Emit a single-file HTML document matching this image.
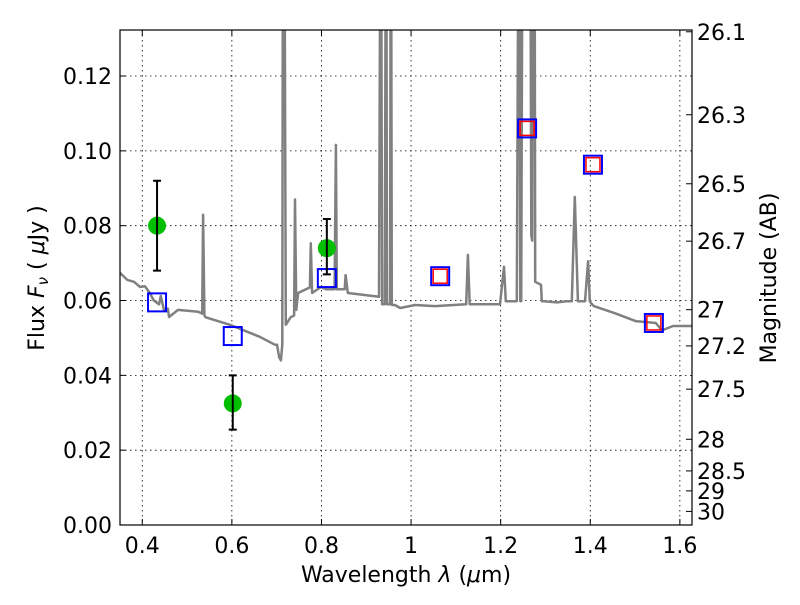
<!DOCTYPE html>
<html><head><meta charset="utf-8"><style>
body{margin:0;background:#fff;}
svg text{font-family:"DejaVu Sans","Liberation Sans",sans-serif;fill:#000;}
</style></head><body>
<svg id="chart" width="800" height="600" xmlns="http://www.w3.org/2000/svg">
<rect x="0" y="0" width="800" height="600" fill="#fff"/>
<defs><clipPath id="clip"><rect x="120" y="30" width="572" height="495"/></clipPath></defs>
<g id="grid"></g>
<g id="spec" clip-path="url(#clip)"></g>
<g id="marks"></g>
<rect x="120" y="30" width="572" height="495" fill="none" stroke="#000" stroke-width="1.2"/>
<g id="axes"></g>
<text x="406" y="582" font-size="22" text-anchor="middle">Wavelength  <tspan font-style="italic">λ</tspan> (<tspan font-style="italic">μ</tspan>m)</text>
<text transform="translate(44,278) rotate(-90)" font-size="22" text-anchor="middle">Flux  <tspan font-style="italic">F<tspan font-size="15" dy="4">ν</tspan></tspan><tspan dy="-4">  ( </tspan><tspan font-style="italic">μ</tspan>Jy )</text>
<text transform="translate(776,278) rotate(-90)" font-size="22" text-anchor="middle">Magnitude (AB)</text>
</svg>
<script>
const specWave=[0.350,0.3667,0.3815,0.3952,0.4060,0.4168,0.4257,0.4375,0.4414,0.4483,0.4571,0.4600,0.4797,0.5249,0.5337,0.5357,0.5386,0.5416,0.5956,0.6624,0.6958,0.7007,0.7056,0.7095,0.7125,0.7144,0.7164,0.7203,0.7311,0.7390,0.7409,0.7439,0.7478,0.7743,0.7763,0.7792,0.7989,0.8097,0.8293,0.8323,0.8342,0.8519,0.8539,0.8588,0.9148,0.9285,0.9325,0.9354,0.9413,0.9443,0.9462,0.9531,0.9551,0.9570,0.9639,0.9757,1.0091,1.0533,1.1230,1.1269,1.1309,1.1986,1.2075,1.2114,1.2163,1.2360,1.2409,1.2438,1.2458,1.2497,1.2654,1.2684,1.2703,1.2723,1.2752,1.2772,1.2900,1.2919,1.2969,1.3253,1.3479,1.3587,1.3656,1.3725,1.3882,1.3951,1.3990,1.4039,1.4079,1.4570,1.5012,1.5464,1.5601,1.5846,1.627];
const specFlux=[0.0674,0.0655,0.0650,0.0636,0.0638,0.0620,0.0600,0.0590,0.0612,0.0575,0.0578,0.0556,0.0575,0.0570,0.0565,0.0829,0.0560,0.0555,0.0535,0.0503,0.0482,0.0482,0.0448,0.0440,0.0482,0.2,0.2,0.0535,0.0555,0.0560,0.0870,0.0575,0.0620,0.0635,0.0753,0.0620,0.0636,0.0630,0.0630,0.1016,0.0630,0.0630,0.0668,0.0620,0.0612,0.0610,0.2,0.0590,0.0590,0.2,0.0590,0.0590,0.2,0.0588,0.0588,0.0580,0.0588,0.0585,0.0590,0.0722,0.0590,0.0590,0.0690,0.0598,0.0598,0.0598,0.2,0.0598,0.0598,0.2,0.2,0.0775,0.0760,0.2,0.2,0.0650,0.0642,0.0598,0.0598,0.0595,0.0598,0.0598,0.0877,0.0598,0.0598,0.0705,0.0598,0.0590,0.0585,0.0565,0.0545,0.0540,0.0520,0.0532,0.0532];
const greenWave=[0.433,0.602,0.812];
const greenFlux=[0.080,0.0325,0.074];
const greenLo=[0.068,0.0255,0.067];
const greenHi=[0.092,0.040,0.0818];
const blueWave=[0.433,0.602,0.812,1.065,1.259,1.406,1.542];
const blueFlux=[0.0595,0.0505,0.066,0.0665,0.106,0.0963,0.054];
const redWave=[1.065,1.259,1.406,1.542];
const redFlux=[0.0665,0.106,0.0963,0.054];
const xTicks=[0.4,0.6,0.8,1.0,1.2,1.4,1.6];
const xTickLabels=["0.4","0.6","0.8","1","1.2","1.4","1.6"];
const yTicks=[0,0.02,0.04,0.06,0.08,0.10,0.12];
const yTickLabels=["0.00","0.02","0.04","0.06","0.08","0.10","0.12"];
const magTicks=[26.1,26.3,26.5,26.7,27,27.2,27.5,28,28.5,29,30];
const magLabels=["26.1","26.3","26.5","26.7","27","27.2","27.5","28","28.5","29","30"];

const NS="http://www.w3.org/2000/svg";
const X0=120,X1=692,Y0=525,Y1=30,XMIN=0.3503,XMAX=1.6271,YMIN=0,YMAX=0.1323;
function sx(v){return X0+(v-XMIN)/(XMAX-XMIN)*(X1-X0);}
function sy(v){return Y0-(v-YMIN)/(YMAX-YMIN)*(Y0-Y1);}
function mk(tag,attrs,parent){const e=document.createElementNS(NS,tag);for(const k in attrs)e.setAttribute(k,attrs[k]);parent.appendChild(e);return e;}
const grid=document.getElementById('grid'),axes=document.getElementById('axes'),spec=document.getElementById('spec'),marks=document.getElementById('marks');

xTicks.forEach((t,i)=>{const x=sx(t);
 let g=mk('line',{x1:x,x2:x,y1:Y1,y2:Y0,stroke:'#000','stroke-width':0.8,'stroke-dasharray':'1.5,3.5'},grid);
 
 
 mk('line',{x1:x,x2:x,y1:Y0,y2:Y0-6,stroke:'#000'},axes);
 mk('line',{x1:x,x2:x,y1:Y1,y2:Y1+6,stroke:'#000'},axes);
 let tx=mk('text',{x:x,y:553,'font-size':22,'text-anchor':'middle'},axes);tx.textContent=xTickLabels[i];
 
 
});
yTicks.forEach((t,i)=>{const y=sy(t);
 if(i>0){let g=mk('line',{x1:X0,x2:X1,y1:y,y2:y,stroke:'#000','stroke-width':0.8,'stroke-dasharray':'1.5,3.5'},grid);
 
 }
 mk('line',{x1:X0,x2:X0+6,y1:y,y2:y,stroke:'#000'},axes);
 let tx=mk('text',{x:112,y:y+8,'font-size':22,'text-anchor':'end'},axes);tx.textContent=yTickLabels[i];
 
 
});
magTicks.forEach((m,i)=>{const f=Math.pow(10,(23.9-m)/2.5);const y=sy(f);
 mk('line',{x1:X1,x2:X1-6,y1:y,y2:y,stroke:'#000'},axes);
 let tx=mk('text',{x:697,y:y+8,'font-size':22,'text-anchor':'start'},axes);tx.textContent=magLabels[i];
 
 
});
let d=specWave.map((w,i)=>(i?'L':'M')+sx(w).toFixed(1)+','+sy(specFlux[i]).toFixed(1)).join('');
let p=mk('path',{d:d,fill:'none',stroke:'#808080','stroke-width':2.5,'stroke-linejoin':'round'},spec);



blueWave.forEach((w,i)=>{const x=sx(w),y=sy(blueFlux[i]);
 let r=mk('rect',{x:x-9,y:y-9,width:18,height:18,fill:'none',stroke:'#0000ff','stroke-width':2},marks);
 
 
});
redWave.forEach((w,i)=>{const x=sx(w),y=sy(redFlux[i]);
 let r=mk('rect',{x:x-7,y:y-7,width:14,height:14,fill:'none',stroke:'#ff0000','stroke-width':1.5},marks);
 
 
});
greenWave.forEach((w,i)=>{const x=sx(w),y=sy(greenFlux[i]),yl=sy(greenLo[i]),yh=sy(greenHi[i]);
 let c=mk('circle',{cx:x,cy:y,r:9,fill:'#00bf00'},marks);
 
 
 let e=mk('path',{d:`M${x},${yl}L${x},${yh}M${x-4},${yl}L${x+4},${yl}M${x-4},${yh}L${x+4},${yh}`,stroke:'#000','stroke-width':2,fill:'none'},marks);
 
 
});
</script>
</body></html>
